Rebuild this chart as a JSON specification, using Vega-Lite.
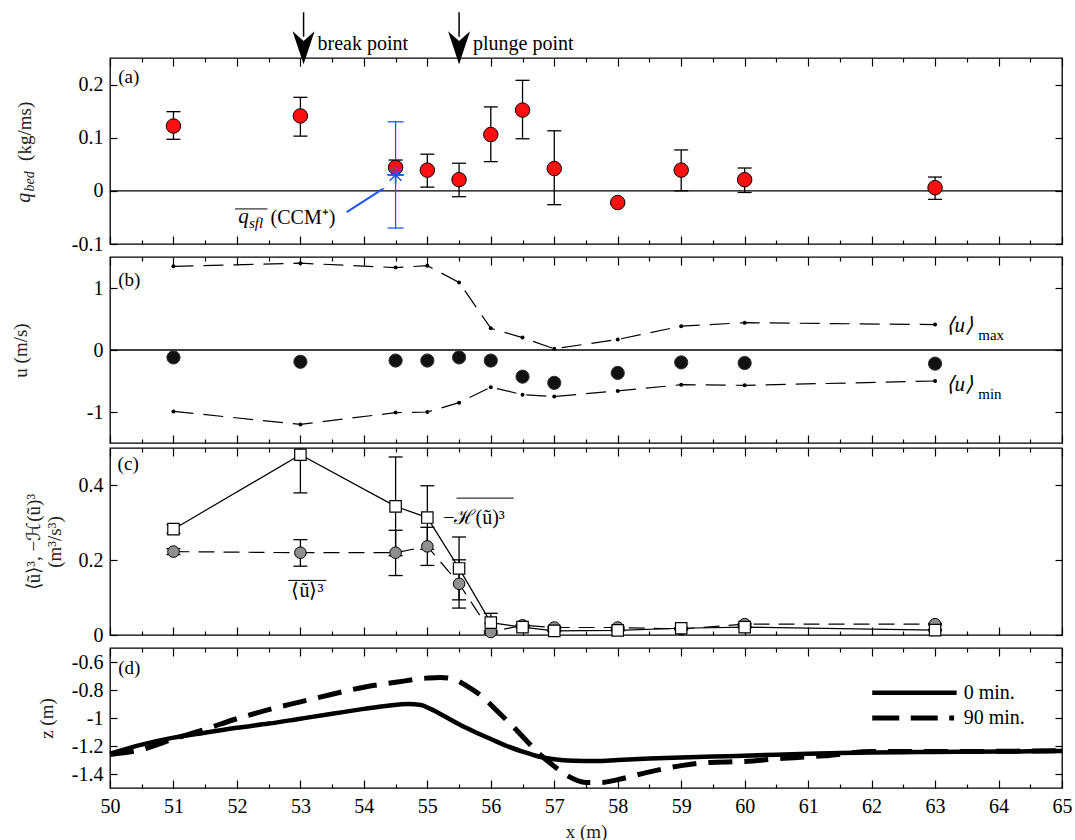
{
 "$schema": "https://vega.github.io/schema/vega-lite/v6.json",
 "padding": {"left": 10, "top": 10, "right": 4, "bottom": 0},
 "autosize": {"type": "pad"},
 "background": "white",
 "spacing": 0,
 "config": {
  "font": "Liberation Serif, Times New Roman, serif",
  "view": {"stroke": "black", "strokeWidth": 1.3},
  "axis": {"domain": false, "grid": false, "labelFont": "Liberation Serif, Times New Roman, serif", "labelFontSize": 20, "labelColor": "black", "titleFont": "Liberation Serif, Times New Roman, serif", "titleFontSize": 19, "titleFontWeight": "normal", "titleColor": "#222", "tickColor": "black", "tickWidth": 1.2},
  "text": {"font": "Liberation Serif, Times New Roman, serif", "color": "black"}
 },
 "datasets": {
  "qbed": [
   {"x": 51, "q": 0.122, "lo": 0.097, "hi": 0.149},
   {"x": 53, "q": 0.141, "lo": 0.103, "hi": 0.176},
   {"x": 54.5, "q": 0.044, "lo": 0.030, "hi": 0.058},
   {"x": 55, "q": 0.039, "lo": 0.007, "hi": 0.069},
   {"x": 55.5, "q": 0.021, "lo": -0.011, "hi": 0.052},
   {"x": 56, "q": 0.106, "lo": 0.055, "hi": 0.158},
   {"x": 56.5, "q": 0.152, "lo": 0.098, "hi": 0.208},
   {"x": 57, "q": 0.042, "lo": -0.026, "hi": 0.113},
   {"x": 58, "q": -0.022, "lo": -0.022, "hi": -0.022},
   {"x": 59, "q": 0.039, "lo": 0.0, "hi": 0.077},
   {"x": 60, "q": 0.021, "lo": -0.003, "hi": 0.043},
   {"x": 63, "q": 0.006, "lo": -0.016, "hi": 0.026}
  ],
  "qsfl": [{"x": 54.5, "q": 0.03, "lo": -0.07, "hi": 0.13}],
  "u": [
   {"x": 51, "umax": 1.35, "umin": -0.99, "umean": -0.12},
   {"x": 53, "umax": 1.40, "umin": -1.20, "umean": -0.19},
   {"x": 54.5, "umax": 1.33, "umin": -1.01, "umean": -0.17},
   {"x": 55, "umax": 1.36, "umin": -1.0, "umean": -0.17},
   {"x": 55.5, "umax": 1.09, "umin": -0.85, "umean": -0.12},
   {"x": 56, "umax": 0.35, "umin": -0.60, "umean": -0.17},
   {"x": 56.5, "umax": 0.20, "umin": -0.72, "umean": -0.43},
   {"x": 57, "umax": 0.02, "umin": -0.75, "umean": -0.53},
   {"x": 58, "umax": 0.17, "umin": -0.66, "umean": -0.37},
   {"x": 59, "umax": 0.385, "umin": -0.56, "umean": -0.20},
   {"x": 60, "umax": 0.44, "umin": -0.57, "umean": -0.21},
   {"x": 63, "umax": 0.41, "umin": -0.50, "umean": -0.22}
  ],
  "c": [
   {"x": 51, "H": 0.283, "Hlo": 0.272, "Hhi": 0.295, "U": 0.223, "Ulo": 0.215, "Uhi": 0.231},
   {"x": 53, "H": 0.482, "Hlo": 0.38, "Hhi": 0.584, "U": 0.220, "Ulo": 0.184, "Uhi": 0.255},
   {"x": 54.5, "H": 0.344, "Hlo": 0.212, "Hhi": 0.476, "U": 0.220, "Ulo": 0.159, "Uhi": 0.280},
   {"x": 55, "H": 0.314, "Hlo": 0.229, "Hhi": 0.399, "U": 0.237, "Ulo": 0.186, "Uhi": 0.288},
   {"x": 55.5, "H": 0.178, "Hlo": 0.094, "Hhi": 0.262, "U": 0.137, "Ulo": 0.072, "Uhi": 0.201},
   {"x": 56, "H": 0.033, "Hlo": 0.008, "Hhi": 0.058, "U": 0.008, "Ulo": 0.004, "Uhi": 0.012},
   {"x": 56.5, "H": 0.021, "Hlo": 0.019, "Hhi": 0.023, "U": 0.026, "Ulo": 0.024, "Uhi": 0.028},
   {"x": 57, "H": 0.011, "Hlo": 0.009, "Hhi": 0.013, "U": 0.020, "Ulo": 0.018, "Uhi": 0.022},
   {"x": 58, "H": 0.0125, "Hlo": 0.011, "Hhi": 0.014, "U": 0.020, "Ulo": 0.018, "Uhi": 0.022},
   {"x": 59, "H": 0.018, "Hlo": 0.016, "Hhi": 0.020, "U": 0.016, "Ulo": 0.014, "Uhi": 0.018},
   {"x": 60, "H": 0.021, "Hlo": 0.019, "Hhi": 0.023, "U": 0.029, "Ulo": 0.027, "Uhi": 0.031},
   {"x": 63, "H": 0.013, "Hlo": 0.011, "Hhi": 0.015, "U": 0.029, "Ulo": 0.027, "Uhi": 0.031}
  ],
  "prof": [
   {"t": "0 min.", "x": 50, "z": -1.255}, {"t": "0 min.", "x": 50.5, "z": -1.19}, {"t": "0 min.", "x": 51, "z": -1.14},
   {"t": "0 min.", "x": 51.5, "z": -1.105}, {"t": "0 min.", "x": 52, "z": -1.07}, {"t": "0 min.", "x": 52.5, "z": -1.04},
   {"t": "0 min.", "x": 53, "z": -1.005}, {"t": "0 min.", "x": 53.5, "z": -0.97}, {"t": "0 min.", "x": 54, "z": -0.935},
   {"t": "0 min.", "x": 54.4, "z": -0.91}, {"t": "0 min.", "x": 54.7, "z": -0.9}, {"t": "0 min.", "x": 54.9, "z": -0.907},
   {"t": "0 min.", "x": 55.05, "z": -0.935}, {"t": "0 min.", "x": 55.3, "z": -0.995}, {"t": "0 min.", "x": 55.5, "z": -1.045},
   {"t": "0 min.", "x": 55.75, "z": -1.1}, {"t": "0 min.", "x": 56, "z": -1.15}, {"t": "0 min.", "x": 56.25, "z": -1.2},
   {"t": "0 min.", "x": 56.5, "z": -1.24}, {"t": "0 min.", "x": 56.75, "z": -1.275}, {"t": "0 min.", "x": 57, "z": -1.295},
   {"t": "0 min.", "x": 57.3, "z": -1.305}, {"t": "0 min.", "x": 57.65, "z": -1.307}, {"t": "0 min.", "x": 58, "z": -1.3},
   {"t": "0 min.", "x": 58.5, "z": -1.29}, {"t": "0 min.", "x": 59, "z": -1.282}, {"t": "0 min.", "x": 59.5, "z": -1.275},
   {"t": "0 min.", "x": 60, "z": -1.27}, {"t": "0 min.", "x": 60.5, "z": -1.262}, {"t": "0 min.", "x": 61, "z": -1.255},
   {"t": "0 min.", "x": 61.5, "z": -1.25}, {"t": "0 min.", "x": 62, "z": -1.246}, {"t": "0 min.", "x": 62.5, "z": -1.244},
   {"t": "0 min.", "x": 63, "z": -1.243}, {"t": "0 min.", "x": 63.5, "z": -1.241}, {"t": "0 min.", "x": 64, "z": -1.24},
   {"t": "0 min.", "x": 64.5, "z": -1.238}, {"t": "0 min.", "x": 65, "z": -1.236},
   {"t": "90 min.", "x": 50, "z": -1.26}, {"t": "90 min.", "x": 50.5, "z": -1.225}, {"t": "90 min.", "x": 51, "z": -1.15},
   {"t": "90 min.", "x": 51.5, "z": -1.08}, {"t": "90 min.", "x": 52, "z": -1.005}, {"t": "90 min.", "x": 52.5, "z": -0.94},
   {"t": "90 min.", "x": 53, "z": -0.885}, {"t": "90 min.", "x": 53.5, "z": -0.83}, {"t": "90 min.", "x": 54, "z": -0.78},
   {"t": "90 min.", "x": 54.5, "z": -0.745}, {"t": "90 min.", "x": 55, "z": -0.715}, {"t": "90 min.", "x": 55.2, "z": -0.71},
   {"t": "90 min.", "x": 55.4, "z": -0.72}, {"t": "90 min.", "x": 55.65, "z": -0.78}, {"t": "90 min.", "x": 55.9, "z": -0.86},
   {"t": "90 min.", "x": 56.1, "z": -0.95}, {"t": "90 min.", "x": 56.35, "z": -1.06}, {"t": "90 min.", "x": 56.6, "z": -1.18},
   {"t": "90 min.", "x": 56.8, "z": -1.27}, {"t": "90 min.", "x": 57, "z": -1.345}, {"t": "90 min.", "x": 57.2, "z": -1.41},
   {"t": "90 min.", "x": 57.5, "z": -1.46}, {"t": "90 min.", "x": 57.75, "z": -1.46}, {"t": "90 min.", "x": 58, "z": -1.44},
   {"t": "90 min.", "x": 58.45, "z": -1.39}, {"t": "90 min.", "x": 59, "z": -1.34}, {"t": "90 min.", "x": 59.45, "z": -1.317},
   {"t": "90 min.", "x": 60, "z": -1.31}, {"t": "90 min.", "x": 60.55, "z": -1.29}, {"t": "90 min.", "x": 61.25, "z": -1.27},
   {"t": "90 min.", "x": 62, "z": -1.24}, {"t": "90 min.", "x": 63, "z": -1.24}, {"t": "90 min.", "x": 64, "z": -1.238},
   {"t": "90 min.", "x": 65, "z": -1.233}
  ]
 },
 "vconcat": [
  {
   "width": 952, "height": 186,
   "layer": [
    {"data": {"values": [{}]}, "mark": {"type": "rule", "color": "black", "strokeWidth": 1.3},
     "encoding": {"y": {"datum": 0, "type": "quantitative", "scale": {"domain": [-0.1, 0.25], "nice": false, "zero": false}, "axis": null}}},
    {"data": {"name": "qbed"}, "mark": {"type": "rule", "color": "black", "strokeWidth": 1.3},
     "encoding": {
      "x": {"field": "x", "type": "quantitative", "scale": {"domain": [50, 65], "nice": false, "zero": false},
            "axis": {"orient": "bottom", "tickCount": 30, "labels": false, "title": null, "minExtent": 0, "maxExtent": 0, "tickSize": {"condition": {"test": "datum.value % 1 === 0", "value": -8}, "value": -4}}},
      "y": {"field": "lo", "type": "quantitative", "scale": {"domain": [-0.1, 0.25], "nice": false, "zero": false},
            "axis": {"orient": "left", "values": [-0.1, 0, 0.1, 0.2], "tickSize": -7, "labelPadding": 14, "labelExpr": "replace(format(datum.value, '~g'), '−', '-')", "title": null}},
      "y2": {"field": "hi"}}},
    {"data": {"name": "qbed"}, "mark": {"type": "tick", "orient": "horizontal", "color": "black", "size": 14, "thickness": 1.3, "opacity": 1},
     "encoding": {
      "x": {"field": "x", "type": "quantitative", "scale": {"domain": [50, 65], "nice": false, "zero": false},
            "axis": {"orient": "top", "tickCount": 30, "labels": false, "title": null, "minExtent": 0, "maxExtent": 0, "tickSize": {"condition": {"test": "datum.value % 1 === 0", "value": -8}, "value": -4}}},
      "y": {"field": "lo", "type": "quantitative", "scale": {"domain": [-0.1, 0.25], "nice": false, "zero": false},
            "axis": {"orient": "right", "values": [-0.1, 0, 0.1, 0.2], "tickSize": -7, "labels": false, "title": null, "minExtent": 0, "maxExtent": 0}}}},
    {"data": {"name": "qbed"}, "mark": {"type": "tick", "orient": "horizontal", "color": "black", "size": 14, "thickness": 1.3, "opacity": 1},
     "encoding": {"x": {"field": "x", "type": "quantitative", "axis": null}, "y": {"field": "hi", "type": "quantitative", "axis": null}}},
    {"data": {"name": "qsfl"}, "mark": {"type": "rule", "color": "#1f55ff", "strokeWidth": 1.3},
     "encoding": {"x": {"field": "x", "type": "quantitative", "axis": null}, "y": {"field": "lo", "type": "quantitative", "axis": null}, "y2": {"field": "hi"}}},
    {"data": {"name": "qsfl"}, "mark": {"type": "tick", "orient": "horizontal", "color": "#1f55ff", "size": 16, "thickness": 1.3, "opacity": 1},
     "encoding": {"x": {"field": "x", "type": "quantitative", "axis": null}, "y": {"field": "lo", "type": "quantitative", "axis": null}}},
    {"data": {"name": "qsfl"}, "mark": {"type": "tick", "orient": "horizontal", "color": "#1f55ff", "size": 16, "thickness": 1.3, "opacity": 1},
     "encoding": {"x": {"field": "x", "type": "quantitative", "axis": null}, "y": {"field": "hi", "type": "quantitative", "axis": null}}},
    {"data": {"name": "qbed"}, "mark": {"type": "point", "filled": true, "fill": "#ff1010", "stroke": "black", "strokeWidth": 1, "size": 210, "opacity": 1},
     "encoding": {"x": {"field": "x", "type": "quantitative", "axis": null}, "y": {"field": "q", "type": "quantitative", "axis": null}}},
    {"data": {"name": "qsfl"}, "mark": {"type": "point", "shape": "M-1,0L1,0M0,-1L0,1M-0.7,-0.7L0.7,0.7M-0.7,0.7L0.7,-0.7", "filled": false, "stroke": "#1f55ff", "strokeWidth": 1.6, "size": 280, "opacity": 1},
     "encoding": {"x": {"field": "x", "type": "quantitative", "axis": null}, "y": {"field": "q", "type": "quantitative", "axis": null}}},
    {"data": {"values": [{"x1": 53.73, "y1": -0.04, "x2": 54.25, "y2": 0.0}]}, "mark": {"type": "rule", "color": "#1f55ff", "strokeWidth": 2},
     "encoding": {"x": {"field": "x1", "type": "quantitative", "axis": null}, "y": {"field": "y1", "type": "quantitative", "axis": null}, "x2": {"field": "x2"}, "y2": {"field": "y2"}}},
    {"data": {"values": [{"x": 54.33, "y": 0.006}]}, "mark": {"type": "point", "shape": "M0,0L0.55,1.7L-0.55,1.7Z", "filled": true, "fill": "#1f55ff", "angle": 55, "size": 40, "opacity": 1},
     "encoding": {"x": {"field": "x", "type": "quantitative", "axis": null}, "y": {"field": "y", "type": "quantitative", "axis": null}}},
    {"data": {"values": [{"x1": 51.97, "x2": 52.48, "y": -0.034}]}, "mark": {"type": "rule", "color": "black", "strokeWidth": 1},
     "encoding": {"x": {"field": "x1", "type": "quantitative", "axis": null}, "x2": {"field": "x2"}, "y": {"field": "y", "type": "quantitative", "axis": null}}},
    {"data": {"values": [{"x": 52.02, "y": -0.049, "t": "q"}]}, "mark": {"type": "text", "align": "left", "baseline": "middle", "fontSize": 21, "fontStyle": "italic"},
     "encoding": {"x": {"field": "x", "type": "quantitative", "axis": null}, "y": {"field": "y", "type": "quantitative", "axis": null}, "text": {"field": "t"}}},
    {"data": {"values": [{"x": 52.19, "y": -0.061, "t": "sfl"}]}, "mark": {"type": "text", "align": "left", "baseline": "middle", "fontSize": 15, "fontStyle": "italic"},
     "encoding": {"x": {"field": "x", "type": "quantitative", "axis": null}, "y": {"field": "y", "type": "quantitative", "axis": null}, "text": {"field": "t"}}},
    {"data": {"values": [{"x": 52.53, "y": -0.051, "t": "(CCM⁺)"}]}, "mark": {"type": "text", "align": "left", "baseline": "middle", "fontSize": 20},
     "encoding": {"x": {"field": "x", "type": "quantitative", "axis": null}, "y": {"field": "y", "type": "quantitative", "axis": null}, "text": {"field": "t"}}},
    {"data": {"values": [{"x": 50.13, "y": 0.214, "t": "(a)"}]}, "mark": {"type": "text", "align": "left", "baseline": "middle", "fontSize": 19},
     "encoding": {"x": {"field": "x", "type": "quantitative", "axis": null}, "y": {"field": "y", "type": "quantitative", "axis": null}, "text": {"field": "t"}}},
    {"data": {"values": [{"x": 48.64, "y": -0.013, "t": "q"}]}, "mark": {"type": "text", "align": "center", "baseline": "middle", "fontSize": 20, "fontStyle": "italic", "angle": 270, "color": "#222"},
     "encoding": {"x": {"field": "x", "type": "quantitative", "axis": null}, "y": {"field": "y", "type": "quantitative", "axis": null}, "text": {"field": "t"}}},
    {"data": {"values": [{"x": 48.74, "y": 0.018, "t": "bed"}]}, "mark": {"type": "text", "align": "center", "baseline": "middle", "fontSize": 14, "fontStyle": "italic", "angle": 270, "color": "#222"},
     "encoding": {"x": {"field": "x", "type": "quantitative", "axis": null}, "y": {"field": "y", "type": "quantitative", "axis": null}, "text": {"field": "t"}}},
    {"data": {"values": [{"x": 48.66, "y": 0.112, "t": "(kg/ms)"}]}, "mark": {"type": "text", "align": "center", "baseline": "middle", "fontSize": 19, "angle": 270, "color": "#222"},
     "encoding": {"x": {"field": "x", "type": "quantitative", "axis": null}, "y": {"field": "y", "type": "quantitative", "axis": null}, "text": {"field": "t"}}},
    {"data": {"values": [{"x": 53.05, "y1": 0.29, "y2": 0.336}, {"x": 55.5, "y1": 0.29, "y2": 0.336}]}, "mark": {"type": "rule", "color": "black", "strokeWidth": 1.5},
     "encoding": {"x": {"field": "x", "type": "quantitative", "axis": null}, "y": {"field": "y1", "type": "quantitative", "axis": null}, "y2": {"field": "y2"}}},
    {"data": {"values": [{"x": 53.05, "y": 0.2695}, {"x": 55.5, "y": 0.2695}]}, "mark": {"type": "point", "shape": "M0,1L-0.667,-1L0,-0.4L0.667,-1Z", "filled": true, "fill": "black", "size": 1089, "opacity": 1},
     "encoding": {"x": {"field": "x", "type": "quantitative", "axis": null}, "y": {"field": "y", "type": "quantitative", "axis": null}}},
    {"data": {"values": [{"x": 53.27, "y": 0.276, "t": "break point"}, {"x": 55.72, "y": 0.276, "t": "plunge point"}]}, "mark": {"type": "text", "align": "left", "baseline": "middle", "fontSize": 20},
     "encoding": {"x": {"field": "x", "type": "quantitative", "axis": null}, "y": {"field": "y", "type": "quantitative", "axis": null}, "text": {"field": "t"}}}
   ]
  },
  {
   "width": 952, "height": 186,
   "layer": [
    {"data": {"values": [{}]}, "mark": {"type": "rule", "color": "black", "strokeWidth": 1.3},
     "encoding": {"y": {"datum": 0, "type": "quantitative", "scale": {"domain": [-1.5, 1.5], "nice": false, "zero": false}, "axis": null}}},
    {"data": {"name": "u"}, "mark": {"type": "line", "color": "black", "strokeWidth": 1.2, "strokeDash": [20, 10], "point": {"filled": true, "fill": "black", "size": 16, "opacity": 1}},
     "encoding": {
      "x": {"field": "x", "type": "quantitative", "scale": {"domain": [50, 65], "nice": false, "zero": false},
            "axis": {"orient": "bottom", "tickCount": 30, "labels": false, "title": null, "minExtent": 0, "maxExtent": 0, "tickSize": {"condition": {"test": "datum.value % 1 === 0", "value": -8}, "value": -4}}},
      "y": {"field": "umax", "type": "quantitative", "scale": {"domain": [-1.5, 1.5], "nice": false, "zero": false},
            "axis": {"orient": "left", "values": [-1, 0, 1], "tickSize": -7, "labelPadding": 14, "labelExpr": "replace(format(datum.value, '~g'), '−', '-')", "title": "u (m/s)", "titlePadding": 56}}}},
    {"data": {"name": "u"}, "mark": {"type": "line", "color": "black", "strokeWidth": 1.2, "strokeDash": [20, 10], "point": {"filled": true, "fill": "black", "size": 16, "opacity": 1}},
     "encoding": {
      "x": {"field": "x", "type": "quantitative", "scale": {"domain": [50, 65], "nice": false, "zero": false},
            "axis": {"orient": "top", "tickCount": 30, "labels": false, "title": null, "minExtent": 0, "maxExtent": 0, "tickSize": {"condition": {"test": "datum.value % 1 === 0", "value": -8}, "value": -4}}},
      "y": {"field": "umin", "type": "quantitative", "scale": {"domain": [-1.5, 1.5], "nice": false, "zero": false},
            "axis": {"orient": "right", "values": [-1, 0, 1], "tickSize": -7, "labels": false, "title": null, "minExtent": 0, "maxExtent": 0}}}},
    {"data": {"name": "u"}, "mark": {"type": "point", "filled": true, "fill": "#111", "stroke": "#333", "strokeWidth": 1, "size": 175, "opacity": 1},
     "encoding": {"x": {"field": "x", "type": "quantitative", "axis": null}, "y": {"field": "umean", "type": "quantitative", "axis": null}}},
    {"data": {"values": [{"x": 50.13, "y": 1.13, "t": "(b)"}]}, "mark": {"type": "text", "align": "left", "baseline": "middle", "fontSize": 19},
     "encoding": {"x": {"field": "x", "type": "quantitative", "axis": null}, "y": {"field": "y", "type": "quantitative", "axis": null}, "text": {"field": "t"}}},
    {"data": {"values": [{"x": 63.18, "y": 0.39, "t": "⟨u⟩"}, {"x": 63.18, "y": -0.56, "t": "⟨u⟩"}]}, "mark": {"type": "text", "align": "left", "baseline": "middle", "fontSize": 21, "fontStyle": "italic"},
     "encoding": {"x": {"field": "x", "type": "quantitative", "axis": null}, "y": {"field": "y", "type": "quantitative", "axis": null}, "text": {"field": "t"}}},
    {"data": {"values": [{"x": 63.68, "y": 0.25, "t": "max"}, {"x": 63.68, "y": -0.71, "t": "min"}]}, "mark": {"type": "text", "align": "left", "baseline": "middle", "fontSize": 15},
     "encoding": {"x": {"field": "x", "type": "quantitative", "axis": null}, "y": {"field": "y", "type": "quantitative", "axis": null}, "text": {"field": "t"}}}
   ]
  },
  {
   "width": 952, "height": 187,
   "layer": [
    {"data": {"name": "c"}, "mark": {"type": "rule", "color": "black", "strokeWidth": 1.3, "clip": true},
     "encoding": {
      "x": {"field": "x", "type": "quantitative", "scale": {"domain": [50, 65], "nice": false, "zero": false},
            "axis": {"orient": "bottom", "tickCount": 30, "labels": false, "title": null, "minExtent": 0, "maxExtent": 0, "tickSize": {"condition": {"test": "datum.value % 1 === 0", "value": -8}, "value": -4}}},
      "y": {"field": "Hlo", "type": "quantitative", "scale": {"domain": [0, 0.5], "nice": false, "zero": false},
            "axis": {"orient": "left", "values": [0, 0.2, 0.4], "tickSize": -7, "labelPadding": 14, "labelExpr": "replace(format(datum.value, '~g'), '−', '-')", "title": ["⟨ũ⟩³, −ℋ(ũ)³", "(m³/s³)"], "titlePadding": 14}},
      "y2": {"field": "Hhi"}}},
    {"data": {"name": "c"}, "mark": {"type": "tick", "orient": "horizontal", "color": "black", "size": 14, "thickness": 1.3, "opacity": 1, "clip": true},
     "encoding": {
      "x": {"field": "x", "type": "quantitative", "scale": {"domain": [50, 65], "nice": false, "zero": false},
            "axis": {"orient": "top", "tickCount": 30, "labels": false, "title": null, "minExtent": 0, "maxExtent": 0, "tickSize": {"condition": {"test": "datum.value % 1 === 0", "value": -8}, "value": -4}}},
      "y": {"field": "Hlo", "type": "quantitative", "scale": {"domain": [0, 0.5], "nice": false, "zero": false},
            "axis": {"orient": "right", "values": [0, 0.2, 0.4], "tickSize": -7, "labels": false, "title": null, "minExtent": 0, "maxExtent": 0}}}},
    {"data": {"name": "c"}, "mark": {"type": "tick", "orient": "horizontal", "color": "black", "size": 14, "thickness": 1.3, "opacity": 1, "clip": true},
     "encoding": {"x": {"field": "x", "type": "quantitative", "axis": null}, "y": {"field": "Hhi", "type": "quantitative", "axis": null}}},
    {"data": {"name": "c"}, "mark": {"type": "rule", "color": "black", "strokeWidth": 1.3, "clip": true},
     "encoding": {"x": {"field": "x", "type": "quantitative", "axis": null}, "y": {"field": "Ulo", "type": "quantitative", "axis": null}, "y2": {"field": "Uhi"}}},
    {"data": {"name": "c"}, "mark": {"type": "tick", "orient": "horizontal", "color": "black", "size": 14, "thickness": 1.3, "opacity": 1, "clip": true},
     "encoding": {"x": {"field": "x", "type": "quantitative", "axis": null}, "y": {"field": "Ulo", "type": "quantitative", "axis": null}}},
    {"data": {"name": "c"}, "mark": {"type": "tick", "orient": "horizontal", "color": "black", "size": 14, "thickness": 1.3, "opacity": 1, "clip": true},
     "encoding": {"x": {"field": "x", "type": "quantitative", "axis": null}, "y": {"field": "Uhi", "type": "quantitative", "axis": null}}},
    {"data": {"name": "c"}, "mark": {"type": "line", "color": "black", "strokeWidth": 1.2, "strokeDash": [16, 9]},
     "encoding": {"x": {"field": "x", "type": "quantitative", "axis": null}, "y": {"field": "U", "type": "quantitative", "axis": null}}},
    {"data": {"name": "c"}, "mark": {"type": "line", "color": "black", "strokeWidth": 1.2},
     "encoding": {"x": {"field": "x", "type": "quantitative", "axis": null}, "y": {"field": "H", "type": "quantitative", "axis": null}}},
    {"data": {"name": "c"}, "mark": {"type": "point", "shape": "circle", "filled": true, "fill": "#8f8f8f", "stroke": "black", "strokeWidth": 1, "size": 135, "opacity": 1},
     "encoding": {"x": {"field": "x", "type": "quantitative", "axis": null}, "y": {"field": "U", "type": "quantitative", "axis": null}}},
    {"data": {"name": "c"}, "mark": {"type": "point", "shape": "square", "filled": true, "fill": "white", "stroke": "black", "strokeWidth": 1.2, "size": 130, "opacity": 1},
     "encoding": {"x": {"field": "x", "type": "quantitative", "axis": null}, "y": {"field": "H", "type": "quantitative", "axis": null}}},
    {"data": {"values": [{"x": 50.12, "y": 0.458, "t": "(c)"}]}, "mark": {"type": "text", "align": "left", "baseline": "middle", "fontSize": 19},
     "encoding": {"x": {"field": "x", "type": "quantitative", "axis": null}, "y": {"field": "y", "type": "quantitative", "axis": null}, "text": {"field": "t"}}},
    {"data": {"values": [{"x": 55.25, "y": 0.314, "t": "−ℋ(ũ)³"}]}, "mark": {"type": "text", "align": "left", "baseline": "middle", "fontSize": 20},
     "encoding": {"x": {"field": "x", "type": "quantitative", "axis": null}, "y": {"field": "y", "type": "quantitative", "axis": null}, "text": {"field": "t"}}},
    {"data": {"values": [{"x": 53.11, "y": 0.117, "t": "⟨ũ⟩³"}]}, "mark": {"type": "text", "align": "center", "baseline": "middle", "fontSize": 20},
     "encoding": {"x": {"field": "x", "type": "quantitative", "axis": null}, "y": {"field": "y", "type": "quantitative", "axis": null}, "text": {"field": "t"}}},
    {"data": {"values": [{"x1": 55.46, "x2": 56.36, "y": 0.366}, {"x1": 52.81, "x2": 53.41, "y": 0.146}]}, "mark": {"type": "rule", "color": "black", "strokeWidth": 1},
     "encoding": {"x": {"field": "x1", "type": "quantitative", "axis": null}, "x2": {"field": "x2"}, "y": {"field": "y", "type": "quantitative", "axis": null}}}
   ]
  },
  {
   "width": 952, "height": 140,
   "layer": [
    {"data": {"name": "prof"}, "transform": [{"filter": "datum.t === '0 min.'"}], "mark": {"type": "line", "color": "black", "strokeWidth": 4.5, "interpolate": "monotone"},
     "encoding": {
      "x": {"field": "x", "type": "quantitative", "scale": {"domain": [50, 65], "nice": false, "zero": false},
            "axis": {"orient": "bottom", "tickCount": 30, "labelExpr": "datum.value % 1 === 0 ? format(datum.value, 'd') : ''", "labelFlush": false, "labelOverlap": false, "labelPadding": 16, "title": "x (m)", "titlePadding": 2, "tickSize": {"condition": {"test": "datum.value % 1 === 0", "value": -8}, "value": -4}}},
      "y": {"field": "z", "type": "quantitative", "scale": {"domain": [-1.5, -0.5], "nice": false, "zero": false},
            "axis": {"orient": "left", "values": [-1.4, -1.2, -1, -0.8, -0.6], "tickSize": -7, "labelPadding": 14, "labelExpr": "replace(format(datum.value, '~g'), '−', '-')", "title": "z (m)", "titlePadding": 15}}}},
    {"data": {"name": "prof"}, "transform": [{"filter": "datum.t === '90 min.'"}], "mark": {"type": "line", "color": "black", "strokeWidth": 5, "strokeDash": [24, 12], "interpolate": "monotone"},
     "encoding": {
      "x": {"field": "x", "type": "quantitative", "scale": {"domain": [50, 65], "nice": false, "zero": false},
            "axis": {"orient": "top", "tickCount": 30, "labels": false, "title": null, "minExtent": 0, "maxExtent": 0, "tickSize": {"condition": {"test": "datum.value % 1 === 0", "value": -8}, "value": -4}}},
      "y": {"field": "z", "type": "quantitative", "scale": {"domain": [-1.5, -0.5], "nice": false, "zero": false},
            "axis": {"orient": "right", "values": [-1.4, -1.2, -1, -0.8, -0.6], "tickSize": -7, "labels": false, "title": null, "minExtent": 0, "maxExtent": 0}}}},
    {"data": {"values": [{"x1": 62.01, "x2": 63.34, "y": -0.82}]}, "mark": {"type": "rule", "color": "black", "strokeWidth": 4.5},
     "encoding": {"x": {"field": "x1", "type": "quantitative", "axis": null}, "x2": {"field": "x2"}, "y": {"field": "y", "type": "quantitative", "axis": null}}},
    {"data": {"values": [{"x1": 62.01, "x2": 63.3, "y": -1.0}]}, "mark": {"type": "rule", "color": "black", "strokeWidth": 5, "strokeDash": [27, 11.5]},
     "encoding": {"x": {"field": "x1", "type": "quantitative", "axis": null}, "x2": {"field": "x2"}, "y": {"field": "y", "type": "quantitative", "axis": null}}},
    {"data": {"values": [{"x": 63.45, "y": -0.82, "t": "0 min."}, {"x": 63.45, "y": -1.0, "t": "90 min."}]}, "mark": {"type": "text", "align": "left", "baseline": "middle", "fontSize": 20},
     "encoding": {"x": {"field": "x", "type": "quantitative", "axis": null}, "y": {"field": "y", "type": "quantitative", "axis": null}, "text": {"field": "t"}}},
    {"data": {"values": [{"x": 50.13, "y": -0.64, "t": "(d)"}]}, "mark": {"type": "text", "align": "left", "baseline": "middle", "fontSize": 19},
     "encoding": {"x": {"field": "x", "type": "quantitative", "axis": null}, "y": {"field": "y", "type": "quantitative", "axis": null}, "text": {"field": "t"}}}
   ]
  }
 ]
}
